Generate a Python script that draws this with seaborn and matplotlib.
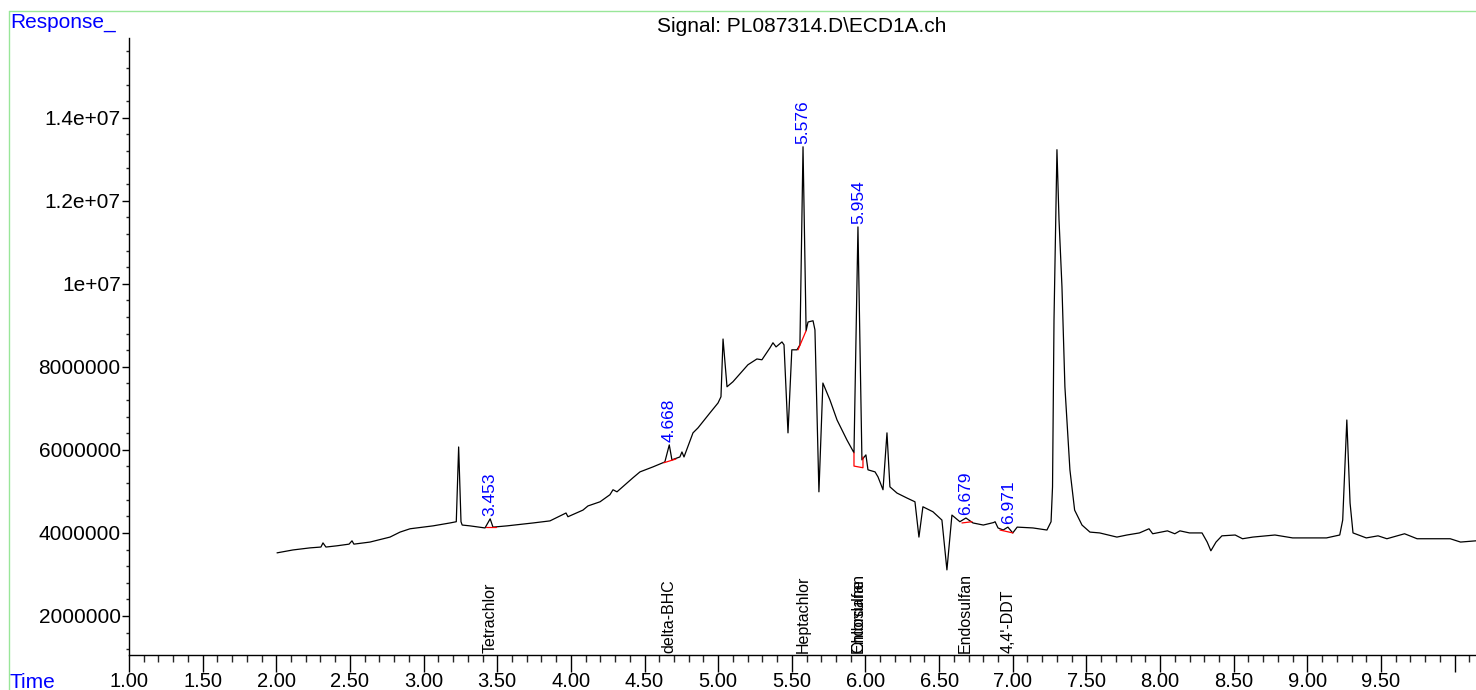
import numpy as np
import pandas as pd
import matplotlib
matplotlib.use("Agg")
import matplotlib.pyplot as plt
import matplotlib.ticker as mticker
import matplotlib.transforms as mtransforms
from matplotlib.lines import Line2D
import seaborn as sns

sns.set_theme(style="white")
plt.rcParams["font.family"] = ["Liberation Sans", "DejaVu Sans"]

## Data (time in min, response in millions)
time_min = [
    2.005, 2.113, 2.229, 2.303, 2.317, 2.337, 2.412, 2.494, 2.514, 2.527,
    2.636, 2.772, 2.840, 2.908, 3.064, 3.179, 3.222, 3.238, 3.254, 3.262,
    3.315, 3.417, 3.452, 3.471, 3.566, 3.743, 3.858, 3.967, 3.980, 4.082,
    4.116, 4.198, 4.265, 4.286, 4.313, 4.422, 4.469, 4.557, 4.638, 4.668,
    4.686, 4.740, 4.754, 4.768, 4.829, 4.863, 4.944, 4.999, 5.019, 5.033,
    5.060, 5.100, 5.202, 5.263, 5.297, 5.352, 5.372, 5.393, 5.433, 5.447,
    5.474, 5.500, 5.535, 5.555, 5.576, 5.597, 5.610, 5.644, 5.657, 5.684,
    5.711, 5.759, 5.807, 5.874, 5.922, 5.949, 5.976, 6.003, 6.017, 6.065,
    6.085, 6.119, 6.146, 6.166, 6.214, 6.282, 6.336, 6.363, 6.390, 6.458,
    6.519, 6.553, 6.587, 6.641, 6.682, 6.730, 6.800, 6.870, 6.880, 6.900,
    6.935, 6.967, 7.000, 7.030, 7.137, 7.232, 7.260, 7.270, 7.280, 7.300,
    7.314, 7.334, 7.354, 7.388, 7.420, 7.470, 7.524, 7.590, 7.707, 7.775,
    7.860, 7.925, 7.950, 8.050, 8.100, 8.135, 8.200, 8.285, 8.320, 8.345,
    8.380, 8.420, 8.510, 8.560, 8.630, 8.780, 8.900, 9.130, 9.220, 9.240,
    9.268, 9.290, 9.310, 9.400, 9.480, 9.540, 9.660, 9.745, 9.970, 10.040,
    10.145,
]
response_mil = [
    3.52, 3.59, 3.64, 3.66, 3.76, 3.66, 3.69, 3.73, 3.81, 3.73,
    3.78, 3.90, 4.02, 4.10, 4.17, 4.24, 4.27, 6.07, 4.27, 4.19,
    4.17, 4.12, 4.34, 4.14, 4.17, 4.24, 4.29, 4.48, 4.39, 4.55,
    4.65, 4.75, 4.92, 5.04, 4.99, 5.33, 5.47, 5.59, 5.71, 6.12,
    5.76, 5.83, 5.95, 5.83, 6.41, 6.53, 6.89, 7.13, 7.28, 8.67,
    7.52, 7.64, 8.05, 8.19, 8.17, 8.46, 8.58, 8.48, 8.60, 8.53,
    6.41, 8.41, 8.41, 8.53, 13.30, 8.87, 9.08, 9.11, 8.89, 4.99,
    7.61, 7.20, 6.72, 6.24, 5.93, 11.37, 5.76, 5.88, 5.52, 5.47,
    5.35, 5.04, 6.41, 5.11, 4.96, 4.84, 4.75, 3.90, 4.63, 4.51,
    4.31, 3.11, 4.43, 4.27, 4.36, 4.24, 4.19, 4.25, 4.27, 4.12,
    4.07, 4.14, 4.00, 4.14, 4.12, 4.07, 4.27, 5.11, 9.13, 13.23,
    11.54, 9.93, 7.52, 5.52, 4.55, 4.19, 4.02, 4.00, 3.90, 3.95,
    4.00, 4.10, 3.98, 4.05, 3.98, 4.05, 4.00, 4.00, 3.78, 3.57,
    3.78, 3.93, 3.95, 3.86, 3.90, 3.95, 3.88, 3.88, 3.95, 4.31,
    6.72, 4.72, 4.00, 3.88, 3.93, 3.86, 3.98, 3.86, 3.86, 3.78,
    3.81,
]

# integrated peaks: retention time, apex response (millions)
peak_rt = [3.453, 4.668, 5.576, 5.954, 6.679, 6.971]
peak_top = [4.34, 6.12, 13.30, 11.37, 4.36, 4.14]

# red baselines under the integrated peaks
base_t = [[3.424, 3.492], [4.631, 4.713], [5.542, 5.597],
          [5.922, 5.922, 5.983, 5.983], [6.655, 6.723], [6.913, 7.001]]
base_r = [[4.14, 4.14], [5.69, 5.78], [8.41, 8.87],
          [5.93, 5.61, 5.57, 5.83], [4.24, 4.27], [4.07, 4.00]]

# compound names along the bottom
cmp_rt = [3.453, 4.668, 5.576, 5.954, 5.954, 6.679, 6.971]
cmp_name = ["Tetrachlor", "delta-BHC", "Heptachlor", "Chlordane",
            "Endosulfan", "Endosulfan", "4,4'-DDT"]

y_ticks = [2e6, 4e6, 6e6, 8e6, 1e7, 1.2e7, 1.4e7]
y_labels = ["2000000", "4000000", "6000000", "8000000", "1e+07", "1.2e+07", "1.4e+07"]

data = pd.DataFrame({"time": time_min, "response": np.array(response_mil) * 1e6})

## Figure
W, H = 1476, 690
fig = plt.figure(figsize=(W / 100, H / 100), dpi=100)
ax = fig.add_axes([129 / W, 35 / H, (W - 129) / W, (655 - 38) / H])

sns.lineplot(data=data, x="time", y="response", color="black", lw=0.9,
             sort=False, estimator=None, ax=ax)

for bt, br in zip(base_t, base_r):
    ax.plot(bt, np.array(br) * 1e6, color="red", lw=0.9)

for rt, top in zip(peak_rt, peak_top):
    ax.annotate(f"{rt:.3f}", xy=(rt, top * 1e6), xytext=(0, 2),
                textcoords="offset points", rotation=90, ha="center",
                va="bottom", color="#0000ff", fontsize=12.5)

trans = mtransforms.blended_transform_factory(ax.transData, ax.transAxes)
for rt, name in zip(cmp_rt, cmp_name):
    ax.text(rt, 0.004, name, transform=trans, rotation=90, ha="center",
            va="bottom", color="black", fontsize=11.5)

ax.set_xlim(1.0, 10.145)
ax.set_ylim(1.06e6, 1.592e7)
ax.set_xlabel("")
ax.set_ylabel("")

ax.xaxis.set_major_locator(mticker.MultipleLocator(0.5))
ax.xaxis.set_minor_locator(mticker.MultipleLocator(0.1))
ax.xaxis.set_major_formatter(mticker.FuncFormatter(
    lambda v, p: f"{v:.2f}" if v < 9.75 else ""))
ax.set_yticks(y_ticks)
ax.set_yticklabels(y_labels)
ax.yaxis.set_minor_locator(mticker.MultipleLocator(4e5))

ax.tick_params(axis="x", which="major", direction="out", length=12, width=1,
               pad=0, labelsize=14.5, colors="black", bottom=True)
ax.tick_params(axis="x", which="minor", direction="out", length=5, width=1,
               bottom=True)
ax.tick_params(axis="y", which="major", direction="out", length=5, width=1,
               pad=1, labelsize=15, colors="black", left=True)
ax.tick_params(axis="y", which="minor", direction="out", length=2.5, width=1,
               left=True)

for side in ["top", "right"]:
    ax.spines[side].set_visible(False)
for side in ["left", "bottom"]:
    ax.spines[side].set_color("black")
    ax.spines[side].set_linewidth(1)

# frame and header texts
green = "#99e699"
fig.add_artist(Line2D([9 / W, 9 / W], [0, 1 - 11 / H], color=green, lw=1))
fig.add_artist(Line2D([9 / W, 1], [1 - 11 / H, 1 - 11 / H], color=green, lw=1))
fig.text(10 / W, 1 - 22 / H, "Response_", color="#0000ff", fontsize=15,
         ha="left", va="center")
fig.text(10 / W, 1 - 682 / H, "Time", color="#0000ff", fontsize=15,
         ha="left", va="center")
fig.text(802 / W, 1 - 27 / H, "Signal: PL087314.D\\ECD1A.ch", color="black",
         fontsize=15, ha="center", va="center")

fig.savefig("out.png", dpi=100)
